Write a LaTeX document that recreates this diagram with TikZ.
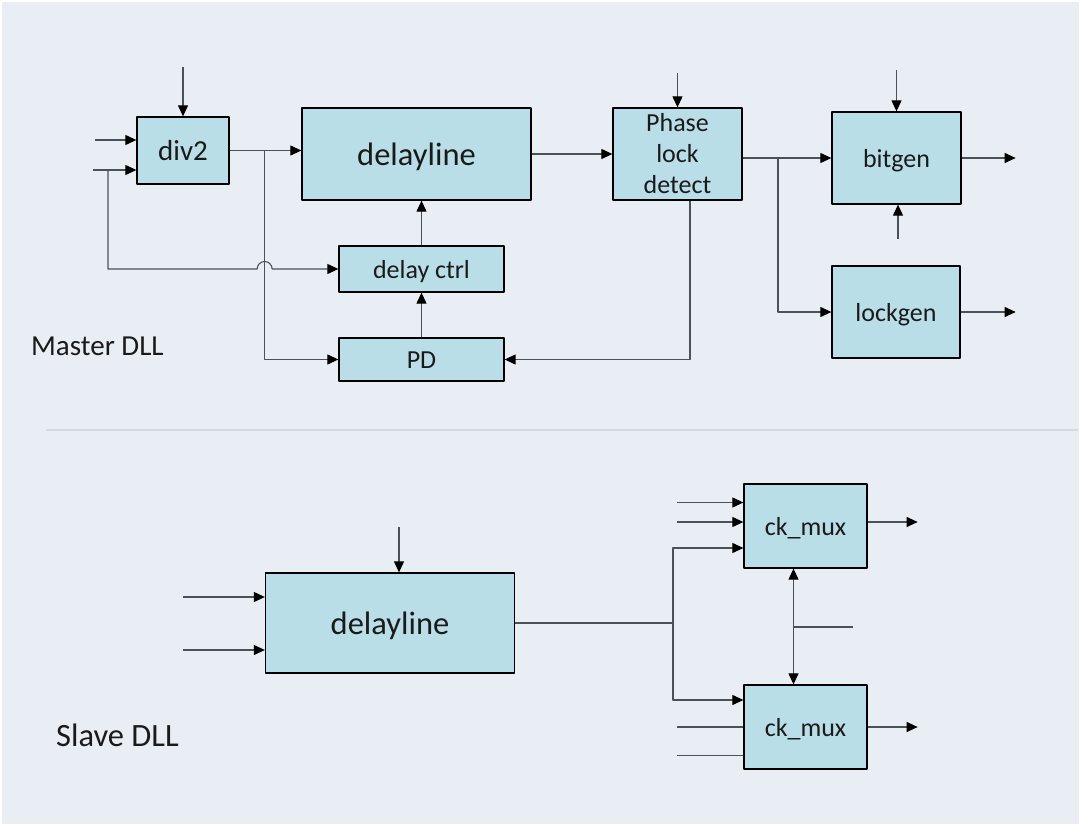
\documentclass[tikz,border=0pt]{standalone}
\usepackage{fontspec}
\setmainfont{Carlito}
\usetikzlibrary{arrows.meta,calc}
\definecolor{bgcol}{HTML}{E9EEF5}
\definecolor{boxcol}{HTML}{B9DEE8}
\definecolor{wirecol}{HTML}{4A5257}
\definecolor{sepcol}{HTML}{D5D9DD}
\definecolor{txtcol}{HTML}{1A1A1A}
\begin{document}
\begin{tikzpicture}[x=1pt, y=-1pt, line join=round, >={Triangle[length=11pt,width=10pt,color=black]},
	blk/.style={draw=black, line width=1.3pt, fill=boxcol, inner sep=0pt, align=center, text=txtcol, font=\fontsize{26}{31}\selectfont},
	one/.style={text height=25pt, text depth=6.5pt},
	big/.style={font=\fontsize{32.5}{39}\selectfont, text height=31pt, text depth=8pt},
	wire/.style={draw=wirecol, line width=1.1pt},
	lbl/.style={anchor=base west, inner sep=0pt, text=txtcol}]
	\useasboundingbox (0,0) rectangle (1080,825);
	\fill[bgcol, draw=white, line width=3pt] (0,0) rectangle (1080,825);
	\draw[sepcol, line width=2.6pt] (46,430) -- (1078,430);
	\node[blk, minimum width=92pt, minimum height=67pt, font=\fontsize{29}{35}\selectfont, text height=27.5pt, text depth=7.3pt] (div2) at (183,150.5) {div2};
	\node[blk, big, minimum width=229pt, minimum height=92pt] (mdelay) at (416.5,154) {delayline};
	\node[blk, one, minimum width=165pt, minimum height=46pt] (dctrl) at (421.5,269) {delay ctrl};
	\node[blk, one, minimum width=165pt, minimum height=43pt] (pd) at (421.5,359.5) {PD};
	\node[blk, minimum width=129pt, minimum height=92pt] (pld) at (677.5,154) {Phase\\lock\\detect};
	\node[blk, one, minimum width=129pt, minimum height=92pt] (bitgen) at (896.5,158) {bitgen};
	\node[blk, one, minimum width=128pt, minimum height=92pt] (lockgen) at (896,312) {lockgen};
	\node[blk, big, minimum width=249pt, minimum height=100pt] (sdelay) at (390,623) {delayline};
	\node[blk, one, minimum width=123pt, minimum height=84pt] (ckA) at (805.5,526) {ck\_mux};
	\node[blk, one, minimum width=123pt, minimum height=84pt] (ckB) at (805.5,727) {ck\_mux};
	\node[lbl, font=\fontsize{29}{35}\selectfont] (mlabel) at (31,355) {Master DLL};
	\node[lbl, font=\fontsize{32.5}{39}\selectfont] (slabel) at (56,746) {Slave DLL};
	\coordinate (tap) at ([xshift=35pt]div2.east);
	\coordinate (fb) at (108,170);
	\coordinate (split) at (778,158);
	\coordinate (fork) at (673,623);
	\coordinate (sel) at (793,627);
	\draw[wire,<-] (div2.north) -- ++(0,-49);
	\draw[wire,<-] ([yshift=10.5pt]div2.west) -- ++(-41,0);
	\draw[wire,<-] ([yshift=-19.5pt]div2.west) -- ++(-43,0);
	\draw[wire,->] (div2.east) -- (mdelay.west |- div2.east);
	\draw[wire,->] (tap) |- (pd.west);
	\draw[wire,->] (fb) -- (fb |- dctrl.west) -- ($(tap |- dctrl.west)+(-7.5,0)$) arc[start angle=180, end angle=0, radius=7.5pt] -- (dctrl.west);
	\draw[wire,->] (dctrl.north) -- (dctrl.north |- mdelay.south);
	\draw[wire,->] (pd.north) -- (dctrl.south);
	\draw[wire,->] (mdelay.east) -- (pld.west);
	\draw[wire,<-] (pld.north) -- ++(0,-34);
	\draw[wire,->] ([xshift=12.5pt]pld.south) |- (pd.east);
	\draw[wire,->] (pld.east |- bitgen.west) -- (bitgen.west);
	\draw[wire,->] (split) |- (lockgen.west);
	\draw[wire,<-] (bitgen.north) -- ++(0,-41);
	\draw[wire,<-] ([xshift=1.5pt]bitgen.south) -- ++(0,34);
	\draw[wire,->] (bitgen.east) -- ++(54,0);
	\draw[wire,->] (lockgen.east) -- ++(55,0);
	\draw[wire,<-] ([xshift=9pt]sdelay.north) -- ++(0,-45);
	\foreach \dy in {26,-27} \draw[wire,<-] ([yshift=\dy pt]sdelay.west) -- ++(-82,0);
	\draw[wire] (sdelay.east) -- (fork);
	\draw[wire,->] (fork) |- ([yshift=-22pt]ckA.west);
	\draw[wire,->] (fork) |- ([yshift=27pt]ckB.west);
	\foreach \dy in {23.5,4} \draw[wire,<-] ([yshift=\dy pt]ckA.west) -- ++(-66,0);
	\foreach \dy in {0,-28.5} \draw[wire] ([yshift=\dy pt]ckB.west) -- ++(-66,0);
	\draw[wire,->] ([yshift=4pt]ckA.east) -- ++(50,0);
	\draw[wire,->] (ckB.east) -- ++(50,0);
	\draw[wire,<->] ([xshift=-12pt]ckA.south) -- ([xshift=-12pt]ckB.north);
	\draw[wire] (sel) -- ++(60,0);
\end{tikzpicture}
\end{document}
